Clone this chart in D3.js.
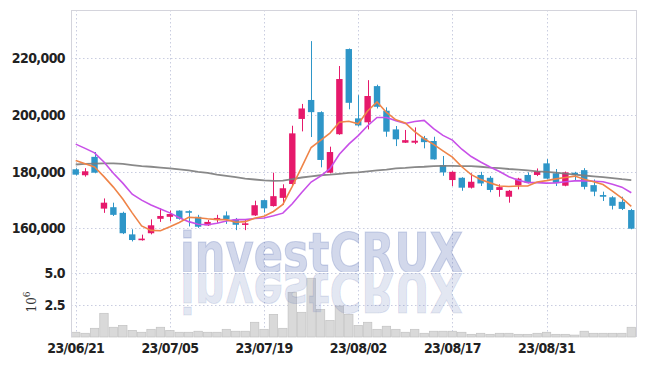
<!DOCTYPE html>
<html><head><meta charset="utf-8">
<script src="https://cdn.jsdelivr.net/npm/d3@7/dist/d3.min.js"></script>
<style>body{margin:0;background:#fff} svg{display:block}</style>
</head><body>
<script>
const dates = ["23/06/21","23/06/22","23/06/23","23/06/26","23/06/27","23/06/28","23/06/29","23/06/30","23/07/03","23/07/04",
"23/07/05","23/07/06","23/07/07","23/07/10","23/07/11","23/07/12","23/07/13","23/07/14","23/07/17","23/07/18",
"23/07/19","23/07/20","23/07/21","23/07/24","23/07/25","23/07/26","23/07/27","23/07/28","23/07/31","23/08/01",
"23/08/02","23/08/03","23/08/04","23/08/07","23/08/08","23/08/09","23/08/10","23/08/11","23/08/14","23/08/16",
"23/08/17","23/08/18","23/08/21","23/08/22","23/08/23","23/08/24","23/08/25","23/08/28","23/08/29","23/08/30",
"23/08/31","23/09/01","23/09/04","23/09/05","23/09/06","23/09/07","23/09/08","23/09/11","23/09/12","23/09/13"];
const openP = [180800,178700,185200,166900,167400,165400,157800,155800,158200,163300,
164000,166200,166000,164000,161000,162900,164500,163100,161200,164500,
169900,167800,170700,175600,198600,205300,201000,179600,193200,223300,
198800,197400,210200,201500,194900,190200,190200,191800,190800,182300,
177000,177800,174300,178800,177800,173500,171100,175100,178800,178800,
182900,179400,175000,179600,180500,175200,171700,170900,169300,166400];
const highP = [181200,181200,186900,170500,169000,165800,159600,157700,163100,167000,
166200,166300,166300,164700,162900,164700,165900,163600,162900,169700,
170100,179600,175500,196200,203900,226100,201300,188800,217300,223500,
207000,212300,210700,202700,196100,194700,195600,192600,192300,185500,
180100,178000,179400,179900,178400,175500,173500,177800,179700,181100,
184400,180900,180000,179900,181200,177200,172900,171300,171100,166800];
const lowP = [178600,178200,179400,165400,164300,157900,155300,155600,157800,162200,
162400,163000,160600,160100,160800,161900,161500,159300,159300,164300,
165500,167600,168200,175300,194200,192200,181500,179400,193000,202000,
196000,194900,202300,192300,189000,190100,189700,188200,184200,178500,
174900,173200,174000,174900,172700,171100,169000,173700,175800,178400,
177300,174900,174800,177000,173700,171300,169600,166600,166400,159600];
const closeP = [178900,180100,179600,169000,164700,158200,155800,156300,161000,164300,
165000,163300,165500,160500,162200,163600,163100,161200,161700,168100,
167000,171300,174100,193500,202300,201000,184100,186900,212700,204300,
196300,206700,202900,194100,191400,191100,190900,190400,184300,179700,
179900,174300,176400,175800,173500,174500,173200,177500,176000,180100,
177500,176000,179700,178800,174600,172900,171100,167900,166800,159800];
const ma5 = [183900,182800,181600,178200,174500,170300,165400,160800,159200,159100,
160500,162000,163800,163700,163300,163000,163000,162100,162300,163500,
164200,165900,168400,174800,181600,188500,191000,193600,197400,197800,
196900,201400,204600,200900,198300,197200,194100,191600,189600,187300,
185100,181700,178900,177200,176000,174900,174700,174900,174900,176300,
176800,177400,177900,178400,177300,176400,175400,173100,170600,167700];
const ma10 = [189700,188200,186600,183400,179400,175900,172000,169900,168200,166800,
165400,163700,162300,161400,161200,161700,162500,163000,163000,163400,
163600,164400,165300,168600,172600,176300,178400,181000,186100,189700,
192700,196200,199100,199100,198000,197000,197700,198100,195200,192800,
191100,187900,185300,183400,181600,180000,178200,176900,176100,176100,
175900,176000,176400,176700,176800,176600,176400,175500,174500,172500];
const ma60 = [182500,182700,182800,182900,182900,182700,182300,181900,181700,181400,
181100,180800,180400,179900,179500,178900,178500,178000,177500,177200,
176900,176700,176800,177300,177900,178300,178700,178900,179200,179500,
179700,180100,180400,180700,181100,181300,181600,181700,181900,182000,
182000,181900,181900,181700,181400,181200,180900,180700,180400,180100,
179900,179600,179300,178900,178600,178300,178000,177700,177300,177000];
const volume = [0.37,0.29,0.68,1.85,0.76,0.91,0.52,0.37,0.60,0.76,
0.52,0.37,0.37,0.45,0.37,0.37,0.60,0.45,0.45,1.15,
0.60,1.77,0.68,3.49,1.93,4.59,2.16,1.30,2.42,1.77,
0.91,1.15,0.60,0.84,0.60,0.37,0.60,0.29,0.45,0.45,
0.45,0.37,0.21,0.29,0.21,0.29,0.29,0.21,0.21,0.29,
0.37,0.21,0.21,0.15,0.45,0.29,0.29,0.29,0.29,0.76];
const priceTicks = [160000,180000,200000,220000];
const volTicks = [2.5,5.0];
const dateTicks = ["23/06/21","23/07/05","23/07/19","23/08/02","23/08/17","23/08/31"];

const W=645,H=366;
const L=71,R=636,T=10,PB=272,VT=273,VB=337;
const svg = d3.select("body").append("svg").attr("width",W).attr("height",H);
const x = d3.scaleBand().domain(dates).range([L,R]);
const cx = d => x(d)+x.bandwidth()/2;
const y = d3.scaleLinear().domain([144500,237100]).range([PB,T]);
const yv = d3.scaleLinear().domain([0,5]).range([VB,VT]);
const gridC = "#c9cde0";

// grid
const g = svg.append("g");
g.selectAll(".hg").data(priceTicks).join("line").attr("x1",L).attr("x2",R)
 .attr("y1",d=>Math.round(y(d))+0.5).attr("y2",d=>Math.round(y(d))+0.5)
 .attr("stroke",gridC).attr("stroke-dasharray","1.5,2.5");
g.selectAll(".vg").data(volTicks).join("line").attr("x1",L).attr("x2",R)
 .attr("y1",d=>Math.round(yv(d))+0.5).attr("y2",d=>Math.round(yv(d))+0.5)
 .attr("stroke",gridC).attr("stroke-dasharray","1.5,2.5");
g.selectAll(".xg").data(dateTicks).join("line").attr("x1",d=>Math.round(cx(d))+0.5).attr("x2",d=>Math.round(cx(d))+0.5)
 .attr("y1",T).attr("y2",VB).attr("stroke",gridC).attr("stroke-dasharray","1.5,2.5");

// volume bars
const bw = x.bandwidth();
svg.append("g").selectAll("rect").data(dates).join("rect")
 .attr("x",d=>x(d)+0.5).attr("width",bw-1)
 .attr("y",(d,i)=>yv(volume[i])).attr("height",(d,i)=>VB-yv(volume[i]))
 .attr("fill","#d9d9d9").attr("stroke","#c2c2c2").attr("stroke-width",0.7);

// watermark (main + reflection, reflection clipped below baseline)
const defs = svg.append("defs");
defs.append("clipPath").attr("id","below").append("rect").attr("x",0).attr("y",273).attr("width",W).attr("height",60);
defs.append("clipPath").attr("id","above").append("rect").attr("x",0).attr("y",200).attr("width",W).attr("height",72);
const wmFont = {fam:"DejaVu Sans", size:55};
svg.append("g").attr("clip-path","url(#above)").append("text").attr("x",180).attr("y",272)
 .attr("font-family",wmFont.fam).attr("font-weight","bold").attr("font-size",wmFont.size)
 .attr("textLength",283).attr("lengthAdjust","spacingAndGlyphs")
 .attr("fill","#5068b0").attr("fill-opacity",0.26).attr("stroke","#5068b0").attr("stroke-opacity",0.26).attr("stroke-width",1.2)
 .text("investCRUX");
svg.append("g").attr("clip-path","url(#below)").append("g").attr("transform","translate(0,545) scale(1,-1)")
 .append("text").attr("x",180).attr("y",272)
 .attr("font-family",wmFont.fam).attr("font-weight","bold").attr("font-size",wmFont.size)
 .attr("textLength",283).attr("lengthAdjust","spacingAndGlyphs")
 .attr("fill","#5068b0").attr("fill-opacity",0.16).attr("stroke","#5068b0").attr("stroke-opacity",0.16).attr("stroke-width",1.2)
 .text("investCRUX");

// borders
svg.append("line").attr("x1",L+0.5).attr("x2",L+0.5).attr("y1",T).attr("y2",VB).attr("stroke","#d4d4dc");
svg.append("line").attr("x1",R+0.5).attr("x2",R+0.5).attr("y1",T).attr("y2",VB).attr("stroke","#d4d4dc");
svg.append("line").attr("x1",L).attr("x2",R).attr("y1",T+0.5).attr("y2",T+0.5).attr("stroke","#d4d4dc");

// candles
const up="#e6196b", dn="#2e96c8";
const cg = svg.append("g");
const col = i => closeP[i]>=openP[i]?up:dn;
cg.selectAll("line").data(dates).join("line")
 .attr("x1",d=>Math.round(cx(d))+0.5).attr("x2",d=>Math.round(cx(d))+0.5)
 .attr("y1",(d,i)=>y(highP[i])).attr("y2",(d,i)=>y(lowP[i]))
 .attr("stroke",(d,i)=>col(i)).attr("stroke-width",1);
cg.selectAll("rect").data(dates).join("rect")
 .attr("x",d=>cx(d)-3.2).attr("width",6.4)
 .attr("y",(d,i)=>y(Math.max(openP[i],closeP[i])))
 .attr("height",(d,i)=>Math.max(1.6,Math.abs(y(openP[i])-y(closeP[i]))))
 .attr("fill",(d,i)=>col(i));

// MA lines
const line = arr => d3.line().x((d,i)=>cx(dates[i])).y(d=>y(d))(arr);
svg.append("path").attr("d",line(ma60)).attr("fill","none").attr("stroke","#7c7c7c").attr("stroke-width",1.8).attr("stroke-opacity",0.9);
svg.append("path").attr("d",line(ma10)).attr("fill","none").attr("stroke","#c850e8").attr("stroke-width",1.6);
svg.append("path").attr("d",line(ma5)).attr("fill","none").attr("stroke","#ef8448").attr("stroke-width",1.6);

// axes
const styleAxis = sel => { sel.select(".domain").remove();
 sel.selectAll("text").attr("font-family","DejaVu Sans").attr("font-stretch","condensed").attr("font-weight","bold")
  .attr("font-size",14).attr("letter-spacing","-0.6").attr("fill","#222"); };
svg.append("g").attr("transform",`translate(${L},0)`)
 .call(d3.axisLeft(y).tickValues(priceTicks).tickFormat(d3.format(",")).tickSize(0).tickPadding(6)).call(styleAxis);
svg.append("g").attr("transform",`translate(${L},0)`)
 .call(d3.axisLeft(yv).tickValues(volTicks).tickFormat(d3.format(".1f")).tickSize(0).tickPadding(6)).call(styleAxis);
svg.append("g").attr("transform",`translate(0,${VB})`)
 .call(d3.axisBottom(x).tickValues(dateTicks).tickSize(0).tickPadding(6)).call(styleAxis);

// 10^6 label
const lt = svg.append("text").attr("transform","translate(36,302) rotate(-90)").attr("text-anchor","middle")
 .attr("font-family","DejaVu Serif, serif").attr("font-size",12).attr("fill","#333");
lt.append("tspan").text("10");
lt.append("tspan").attr("dy",-6).attr("font-size",9).text("6");
</script>
</body></html>
